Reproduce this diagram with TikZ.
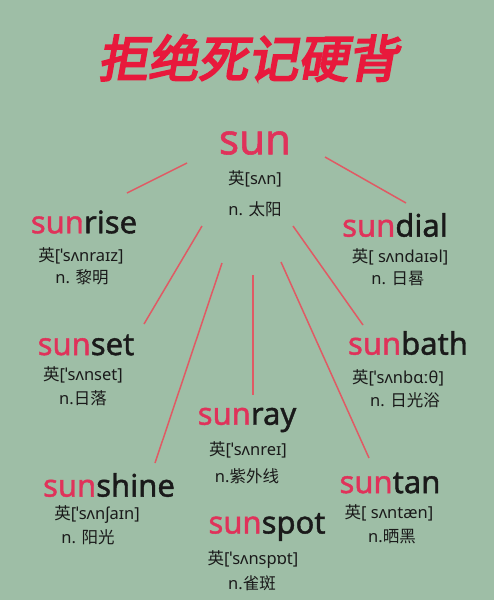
\documentclass[tikz,border=0pt]{standalone}
\usepackage{fontspec}
\setmainfont{Noto Sans}
\newfontfamily\zh{Noto Sans CJK SC}
\newfontfamily\wordfont[FakeBold=1.3]{Noto Sans}
\newfontfamily\titlefont[FakeSlant=0.18,FakeBold=4]{Noto Sans CJK SC}
\usetikzlibrary{positioning}
\definecolor{bgc}{HTML}{9EBEA6}
\definecolor{sunred}{HTML}{E0325A}
\definecolor{titlered}{HTML}{E8193C}
\definecolor{rayred}{HTML}{E05A64}
\definecolor{ink}{HTML}{1A1A1A}
\tikzstyle{word}=[inner sep=0pt,text=ink,font=\wordfont\fontsize{31}{31}\selectfont]
\tikzstyle{root}=[inner sep=0pt,text=sunred,font=\wordfont\fontsize{42}{42}\selectfont]
\tikzstyle{pron}=[inner sep=0pt,text=ink,font=\fontsize{16.5}{16.5}\selectfont]
\tikzstyle{mean}=[inner sep=0pt,text=ink,font=\fontsize{16.5}{16.5}\selectfont]
\tikzstyle{ray}=[draw=rayred,line width=1.5pt]
\newcommand{\sunpart}[1]{\textcolor{sunred}{sun}#1}

\begin{document}
\begin{tikzpicture}[x=1pt,y=1pt]
            \fill[bgc] (0,-600) rectangle (494,0);
            \useasboundingbox (0,-600) rectangle (494,0);

            % title
            \node[inner sep=0pt,text=titlered,font=\titlefont\fontsize{50}{50}\selectfont] (title) at (248,-58) {拒绝死记硬背};

            % sun
            \node[root] (w0) at (255,-143) {sun};
            \node[pron] (p0) at (255,-179) {{\zh 英}[sʌn]};
            \node[mean] (m0) at (255,-209) {n. {\zh 太阳}};

            % left column
            \node[word] (w1) at (84,-222) {\sunpart{rise}};
            \node[pron] (p1) at (81,-256) {{\zh 英}[ˈsʌnraɪz]};
            \node[mean] (m1) at (82,-277) {n. {\zh 黎明}};

            \node[word] (w2) at (86,-345) {\sunpart{set}};
            \node[pron] (p2) at (83,-375) {{\zh 英}[ˈsʌnset]};
            \node[mean] (m2) at (83,-398) {n.{\zh 日落}};

            \node[word] (w3) at (109,-485) {\sunpart{shine}};
            \node[pron] (p3) at (97,-515) {{\zh 英}[ˈsʌnʃaɪn]};
            \node[mean] (m3) at (88,-537) {n. {\zh 阳光}};

            % middle column
            \node[word] (w4) at (247,-420) {\sunpart{ray}};
            \node[pron] (p4) at (248,-450) {{\zh 英}[ˈsʌnreɪ]};
            \node[mean] (m4) at (247,-476) {n.{\zh 紫外线}};

            \node[word] (w5) at (267,-527) {\sunpart{spot}};
            \node[pron] (p5) at (253,-560) {{\zh 英}[ˈsʌnspɒt]};
            \node[mean] (m5) at (252,-583) {n.{\zh 雀斑}};

            % right column
            \node[word] (w6) at (395,-225) {\sunpart{dial}};
            \node[pron] (p6) at (400,-257) {{\zh 英}[ sʌndaɪəl]};
            \node[mean] (m6) at (398,-279) {n. {\zh 日晷}};

            \node[word] (w7) at (408,-343) {\sunpart{bath}};
            \node[pron] (p7) at (398,-378) {{\zh 英}[ˈsʌnbɑːθ]};
            \node[mean] (m7) at (405,-400) {n. {\zh 日光浴}};

            \node[word] (w8) at (390,-483) {\sunpart{tan}};
            \node[pron] (p8) at (389,-513) {{\zh 英}[ sʌntæn]};
            \node[mean] (m8) at (392,-537) {n.{\zh 晒黑}};

            % rays
            \coordinate (r1a) at (187,-163);  \coordinate (r1b) at (127,-193);
            \coordinate (r6a) at (325,-157);  \coordinate (r6b) at (406,-203);
            \coordinate (r2a) at (202,-226);  \coordinate (r2b) at (144,-324);
            \coordinate (r7a) at (293,-226);  \coordinate (r7b) at (363,-325);
            \coordinate (r3a) at (222,-263);  \coordinate (r3b) at (155,-463);
            \coordinate (r4a) at (253,-275);  \coordinate (r4b) at (253,-395);
            \coordinate (r8a) at (281,-262);  \coordinate (r8b) at (369,-458);

            \draw[ray] (r1a) -- (r1b);
            \draw[ray] (r6a) -- (r6b);
            \draw[ray] (r2a) -- (r2b);
            \draw[ray] (r7a) -- (r7b);
            \draw[ray] (r3a) -- (r3b);
            \draw[ray] (r4a) -- (r4b);
            \draw[ray] (r8a) -- (r8b);

        \end{tikzpicture}
\end{document}
